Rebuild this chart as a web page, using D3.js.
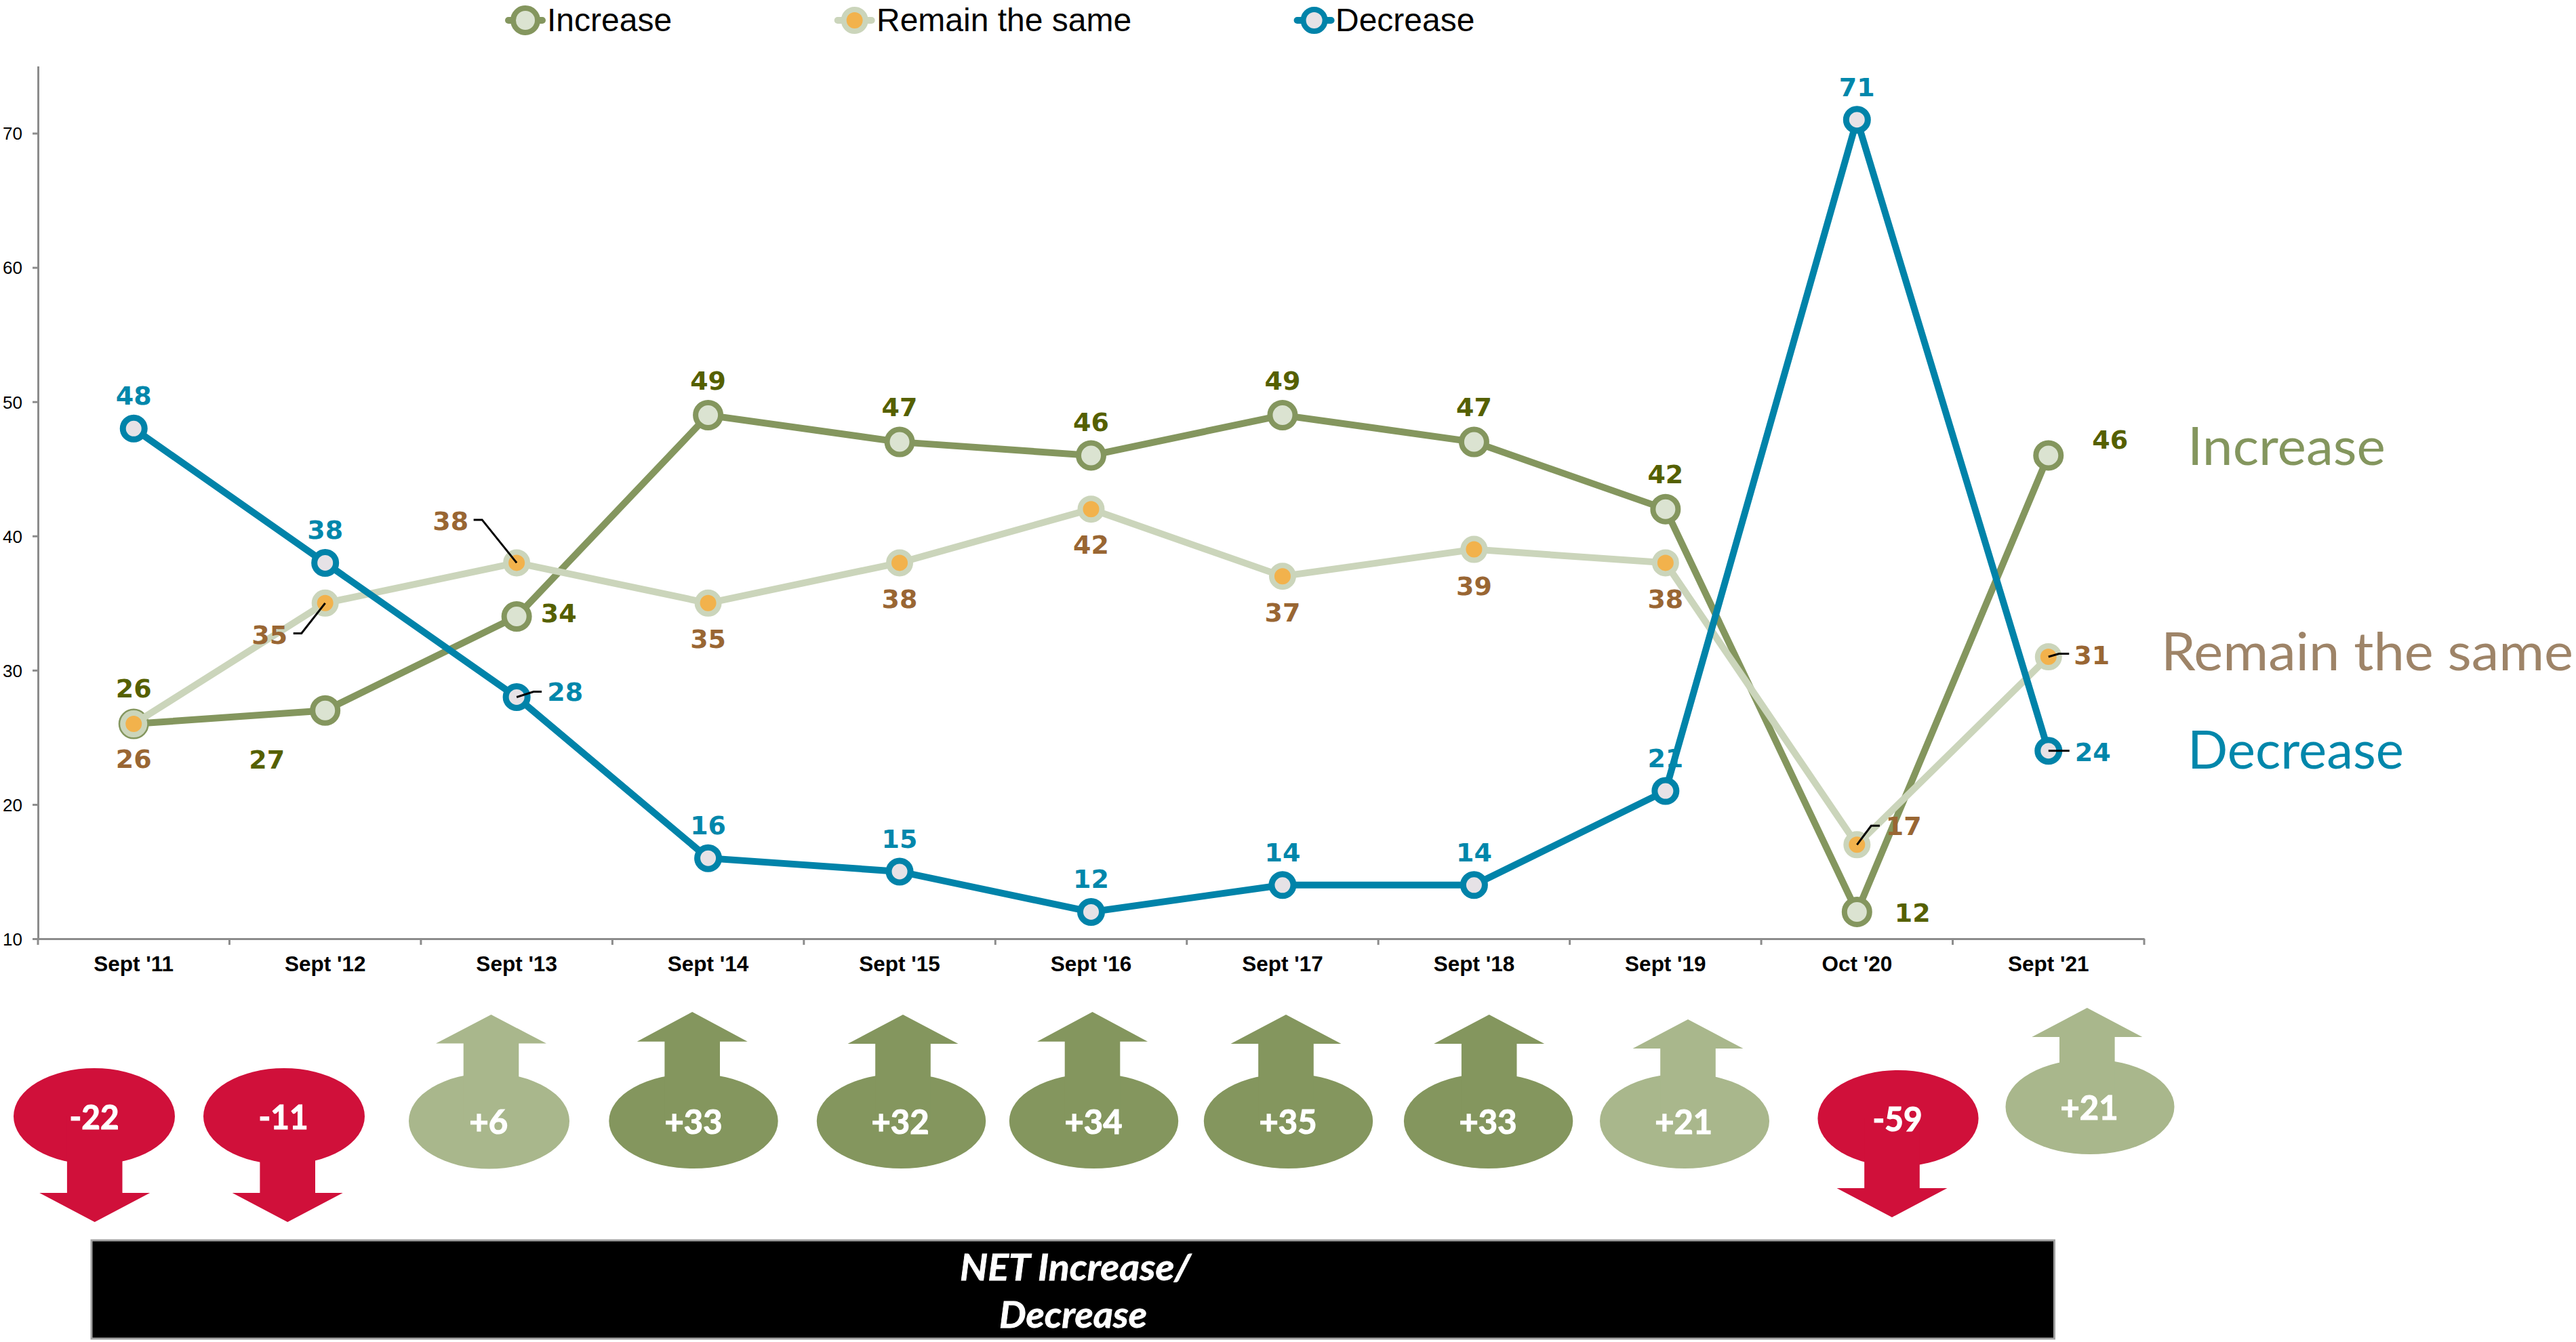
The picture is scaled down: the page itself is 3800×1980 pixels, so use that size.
<!DOCTYPE html>
<html><head><meta charset="utf-8">
<script src="https://cdn.jsdelivr.net/npm/d3@7"></script>
<style>html,body{margin:0;padding:0;background:#fff}svg{display:block}</style>
</head><body><svg id="c" width="3800" height="1980" xmlns="http://www.w3.org/2000/svg"></svg>
<script>
// ---- data ----
const categories = ["Sept '11","Sept '12","Sept '13","Sept '14","Sept '15","Sept '16","Sept '17","Sept '18","Sept '19","Oct '20","Sept '21"];
const increase = [26,27,34,49,47,46,49,47,42,12,46];
const remainSame = [26,35,38,35,38,42,37,39,38,17,31];
const decrease = [48,38,28,16,15,12,14,14,21,71,24];
const netChange = [-22,-11,6,33,32,34,35,33,21,-59,21];
const yTicks = [10,20,30,40,50,60,70];

// ---- layout (pixels, not values) ----
const incLabelOffset = [[0,-39],[-86,86],[62,8.5],[0,-38],[0,-38],[0,-36],[0,-38],[0,-38],[0,-38],[82,15],[91,-9.5]];
const remLabelOffset = [[0,65],[-82,60],[-97.5,-48],[0,66],[0,67],[0,66],[0,67],[0,67],[0,67],[69,-14],[64,11]];
const decLabelOffset = [[0,-35],[0,-35],[71.5,6],[0,-35],[0,-35],[0,-35],[0,-35],[0,-35],[0,-35],[0,-35],[65.5,15]];
const remLeaders = {1:[[-35,44.7],[-47,44.7]],2:[[-51,-63.5],[-63.5,-63.5]],9:[[21,-28],[33.6,-28]],10:[[15.5,-4.5],[30.5,-4.5]]};
const decLeaders = {2:[[25,-8],[37,-8]],10:[[31,0]]};
// bubble: cx, cy, rx, ry, arrow x (shaft centre), head base y, tip y, label x, label baseline
const bubbleLayout = [
 [139,1647,119,71,139.7,1760,1803,139,1666],
 [419,1647,119,71,424.2,1760,1803,418,1666],
 [721.5,1654,118.5,70.5,724.5,1539.6,1497,720.7,1672.6],
 [1023,1654,124.7,70,1021.2,1536.7,1493,1023,1673],
 [1329.5,1654,124.7,70,1332,1540,1497,1328,1673],
 [1613.5,1654,124.7,70,1611.5,1536.7,1493,1613,1673],
 [1900.5,1654,124.7,70,1897,1540,1497,1900,1673],
 [2195.6,1654,124.7,70,2196.7,1540,1497,2195,1673],
 [2485,1654,125,70,2490,1547,1504,2483.7,1673],
 [2800,1650,118.6,71,2791,1753,1796,2799,1669],
 [3083,1633,124.5,70,3078.8,1530,1487,3082,1651.5]
];
const fontData = '"DejaVu Sans"', fontCal = 'Lato', fontAxis = '"Liberation Sans"';
const col = {inc:'#84965e',incFill:'#dbe3d1',rem:'#cbd5bb',remFill:'#f2b24c',dec:'#0083a9',decFill:'#e6e2e6',
  incText:'#556000',remText:'#996633',decText:'#0087ab',sideRem:'#9e8468',axis:'#8c8c8c',red:'#d0103a',dark:'#84965e',light:'#a9b78c'};

const svg = d3.select('#c');
const x = d3.scaleBand().domain(categories).range([56,3163]).padding(0);
const y = d3.scaleLinear().domain([10,75]).range([1385,97.5]);
const px = c => x(c)+x.bandwidth()/2;

// axes
const gy = svg.append('g').attr('transform','translate(56,0)')
  .call(d3.axisLeft(y).tickValues(yTicks).tickSize(8).tickPadding(15).tickSizeOuter(0));
gy.select('.domain').attr('stroke',col.axis).attr('stroke-width',3);
gy.selectAll('line').attr('stroke',col.axis).attr('stroke-width',3);
gy.selectAll('text').attr('font-family',fontAxis).attr('font-size',26).attr('fill','#000').attr('dy','0.36em');

const gx = svg.append('g').attr('transform','translate(0,1385)')
  .call(d3.axisBottom(x).tickSize(0).tickPadding(26).tickSizeOuter(0));
gx.select('.domain').attr('stroke',col.axis).attr('stroke-width',3);
gx.selectAll('text').attr('font-family',fontAxis).attr('font-size',31.5).attr('font-weight',700).attr('fill','#000').attr('dy','0.71em');
svg.append('g').selectAll('line').data(categories.map(c=>x(c)).concat([3163])).join('line')
  .attr('x1',d=>d).attr('x2',d=>d).attr('y1',1385).attr('y2',1394).attr('stroke',col.axis).attr('stroke-width',3);

// series
const line = d3.line().x((d,i)=>px(categories[i])).y(d=>y(d));
const series = [
 {vals:increase,stroke:col.inc,fill:col.incFill,r:18.5,sw:8,text:col.incText,off:incLabelOffset,lead:{}},
 {vals:remainSame,stroke:col.rem,fill:col.remFill,r:16,sw:8,text:col.remText,off:remLabelOffset,lead:remLeaders},
 {vals:decrease,stroke:col.dec,fill:col.decFill,r:16,sw:9,text:col.decText,off:decLabelOffset,lead:decLeaders}
];
series.forEach(s=>{
  const g = svg.append('g');
  g.append('path').attr('d',line(s.vals)).attr('fill','none').attr('stroke',s.stroke).attr('stroke-width',10);
  g.selectAll('circle').data(s.vals).join('circle')
    .attr('cx',(d,i)=>px(categories[i])).attr('cy',d=>y(d)).attr('r',s.r)
    .attr('fill',s.fill).attr('stroke',s.stroke).attr('stroke-width',s.sw);
});
series.forEach(s=>{
  const g = svg.append('g');
  Object.keys(s.lead).forEach(k=>{
    const i=+k, x0=px(categories[i]), y0=y(s.vals[i]);
    const pts=[[x0,y0]].concat(s.lead[k].map(p=>[x0+p[0],y0+p[1]]));
    g.append('path').attr('d',d3.line()(pts)).attr('fill','none').attr('stroke','#000').attr('stroke-width',3);
  });
  g.selectAll('text').data(s.vals).join('text')
    .attr('x',(d,i)=>px(categories[i])+s.off[i][0]).attr('y',(d,i)=>y(d)+s.off[i][1])
    .attr('text-anchor','middle').attr('font-family',fontData).attr('font-weight',700).attr('font-size',38)
    .attr('fill',s.text).text(d=>d);
});

// legend
const legend = [
 {name:'Increase',cx:775,tx:807,stroke:col.inc,fill:col.incFill,r:18},
 {name:'Remain the same',cx:1260.7,tx:1293,stroke:col.rem,fill:col.remFill,r:16},
 {name:'Decrease',cx:1938.6,tx:1970,stroke:col.dec,fill:col.decFill,r:16}
];
legend.forEach(l=>{
  const g=svg.append('g');
  g.append('line').attr('x1',l.cx-25).attr('x2',l.cx+25).attr('y1',30).attr('y2',30)
    .attr('stroke',l.stroke).attr('stroke-width',10).attr('stroke-linecap','round');
  g.append('circle').attr('cx',l.cx).attr('cy',30).attr('r',l.r).attr('fill',l.fill).attr('stroke',l.stroke).attr('stroke-width',8);
  g.append('text').attr('x',l.tx).attr('y',45.5).attr('font-family',fontAxis).attr('font-size',48).attr('fill','#000').text(l.name);
});

// side labels
[['Increase',3227,686,292,col.inc],['Remain the same',3188,988.6,608,col.sideRem],['Decrease',3227,1134,319,col.decText]].forEach(a=>{
  svg.append('text').attr('x',a[1]).attr('y',a[2]).attr('font-family',fontCal).attr('font-size',78).attr('fill',a[4])
    .attr('textLength',a[3]).attr('lengthAdjust','spacingAndGlyphs').text(a[0]);
});

// bubbles
const gb = svg.append('g');
netChange.forEach((v,i)=>{
  const [cx,cy,rx,ry,ax,hy,ty,lx,ly] = bubbleLayout[i];
  const fill = v<0 ? col.red : (v>=30 ? col.dark : col.light);
  gb.append('ellipse').attr('cx',cx).attr('cy',cy).attr('rx',rx).attr('ry',ry).attr('fill',fill);
  const pts=[[ax-40.8,cy],[ax-40.8,hy],[ax-81.5,hy],[ax,ty],[ax+81.5,hy],[ax+40.8,hy],[ax+40.8,cy]];
  gb.append('path').attr('d',d3.line()(pts)+'Z').attr('fill',fill);
  const s=(v>0?'+':'')+v;
  const w=s.length===2?57:(v>0?85:73);
  gb.append('text').attr('x',lx-w/2).attr('y',ly).attr('font-family',fontCal).attr('font-weight',700)
    .attr('font-size',50).attr('fill','#fff').attr('stroke','#fff').attr('stroke-width',1.2)
    .attr('textLength',w).attr('lengthAdjust','spacingAndGlyphs').text(s);
});

// banner
svg.append('rect').attr('x',135).attr('y',1830).attr('width',2895.5).attr('height',145).attr('fill','#000').attr('stroke','#a0a0a0').attr('stroke-width',3);
[['NET Increase/',1416,1889,341],['Decrease',1474,1959,218]].forEach(a=>{
  svg.append('text').attr('x',a[1]).attr('y',a[2]).attr('font-family',fontCal).attr('font-weight',700).attr('font-style','italic')
    .attr('font-size',54).attr('fill','#fff').attr('stroke','#fff').attr('stroke-width',0.8)
    .attr('textLength',a[3]).attr('lengthAdjust','spacingAndGlyphs').text(a[0]);
});
</script></body></html>
